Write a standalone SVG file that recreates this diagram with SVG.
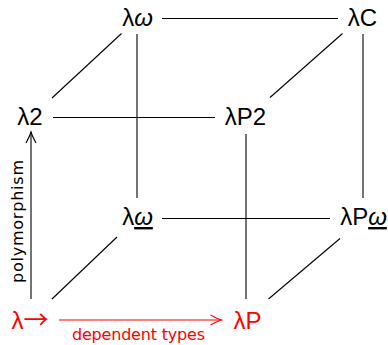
<svg xmlns="http://www.w3.org/2000/svg" width="388" height="345" viewBox="0 0 388 345">
<style>
.lbl{font-family:"Liberation Sans","DejaVu Sans",sans-serif;font-size:24px;text-anchor:middle;fill:#000}
.red{fill:#ff0000}
.sm{font-family:"DejaVu Sans","Liberation Sans",sans-serif;font-size:16px;text-anchor:middle}
.it{font-style:italic}
.ul{text-decoration:underline}
.arr{font-family:"Noto Sans CJK SC","DejaVu Sans",sans-serif;font-size:25px}
.edge{stroke:#000;stroke-width:1.1;fill:none}
.edge.r{stroke:#ff0000}
</style>
<defs>
<marker id="ah" markerUnits="userSpaceOnUse" orient="auto" refX="0" refY="0" markerWidth="20" markerHeight="20" overflow="visible">
<path d="M-11,-5 Q-4,-1.2 0,0 Q-4,1.2 -11,5" fill="none" stroke="#000" stroke-width="1.1"/>
</marker>
<marker id="ahr" markerUnits="userSpaceOnUse" orient="auto" refX="0" refY="0" markerWidth="20" markerHeight="20" overflow="visible">
<path d="M-11,-5 Q-4,-1.2 0,0 Q-4,1.2 -11,5" fill="none" stroke="#ff0000" stroke-width="1.1"/>
</marker>
</defs>
<g id="connectors">
<line class="edge" x1="162" y1="18.5" x2="338" y2="18.5"/>
<line class="edge" x1="53" y1="117.5" x2="215" y2="117.5"/>
<line class="edge" x1="137" y1="34" x2="137" y2="198"/>
<line class="edge" x1="363" y1="34" x2="363" y2="198"/>
<line class="edge" x1="246" y1="134" x2="246" y2="299"/>
<line class="edge" x1="162" y1="218.5" x2="330" y2="218.5"/>
<line class="edge" x1="52" y1="98" x2="121.5" y2="33.5"/>
<line class="edge" x1="270" y1="97.5" x2="342.5" y2="33.5"/>
<line class="edge" x1="52" y1="299" x2="117" y2="237"/>
<line class="edge" x1="268.5" y1="299" x2="340" y2="238.5"/>
<line class="edge" x1="31" y1="299" x2="31" y2="132" marker-end="url(#ah)"/>
<line class="edge r" x1="59" y1="320" x2="221.5" y2="320" marker-end="url(#ahr)"/>
<text class="sm" transform="translate(23,221.5) rotate(-90)" textLength="123" lengthAdjust="spacing">polymorphism</text>
<text class="sm red" x="138.5" y="340" textLength="133" lengthAdjust="spacing">dependent types</text>
</g>
<g id="n-lomega"><text class="lbl" x="137.5" y="26">λ<tspan class="it">ω</tspan></text></g>
<g id="n-lC"><text class="lbl" x="362.5" y="26">λC</text></g>
<g id="n-l2"><text class="lbl" x="30" y="125">λ2</text></g>
<g id="n-lP2"><text class="lbl" x="245.5" y="125">λP2</text></g>
<g id="n-lomegabar"><text class="lbl" x="137.5" y="225">λ<tspan class="it ul">ω</tspan></text></g>
<g id="n-lPomega"><text class="lbl" x="363.5" y="225">λP<tspan class="it ul">ω</tspan></text></g>
<g id="n-larrow"><text class="lbl red" x="30" y="329">λ<tspan class="arr">→</tspan></text></g>
<g id="n-lP"><text class="lbl red" x="247.5" y="329">λP</text></g>
</svg>
